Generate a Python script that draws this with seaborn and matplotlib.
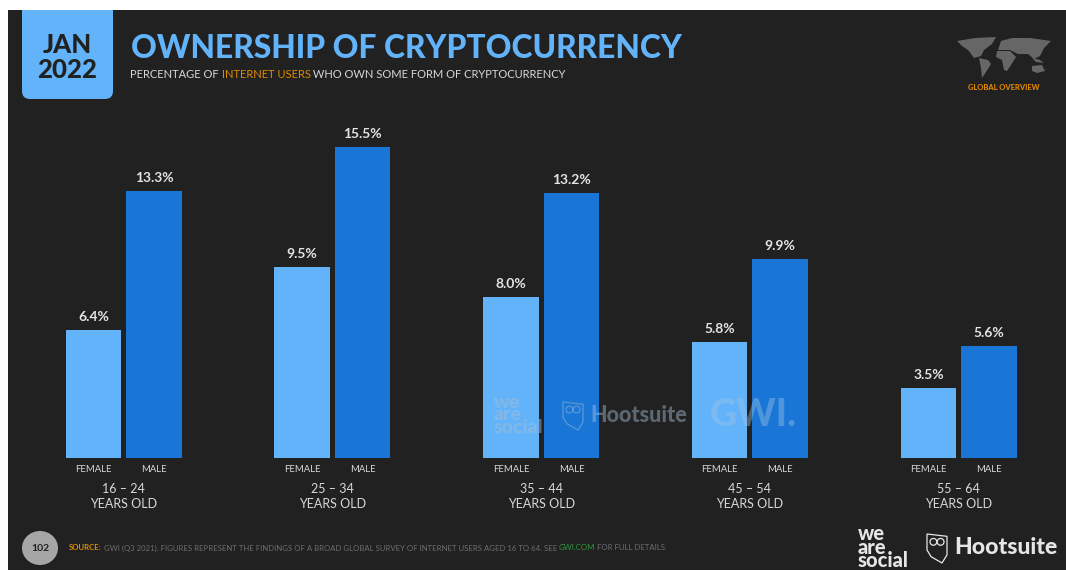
import matplotlib
matplotlib.use("Agg")
import matplotlib.pyplot as plt
from matplotlib.patches import FancyBboxPatch, Rectangle, Circle, Polygon, Ellipse
import pandas as pd
import seaborn as sns

age_groups = ["16 – 24", "25 – 34", "35 – 44", "45 – 54", "55 – 64"]
female_values = [6.4, 9.5, 8.0, 5.8, 3.5]
male_values = [13.3, 15.5, 13.2, 9.9, 5.6]
genders = ["FEMALE", "MALE"]
title_text = "OWNERSHIP OF CRYPTOCURRENCY"
subtitle_parts = ["PERCENTAGE OF ", "INTERNET USERS", " WHO OWN SOME FORM OF CRYPTOCURRENCY"]
source_parts = ["SOURCE:", " GWI (Q3 2021). FIGURES REPRESENT THE FINDINGS OF A BROAD GLOBAL SURVEY OF INTERNET USERS AGED 16 TO 64. SEE ",
                "GWI.COM", " FOR FULL DETAILS."]

BG, LIGHT, DARK, ORANGE = "#212121", "#62B3F9", "#1976D6", "#E08A00"
W, H = 1066, 572

sns.set_theme(style="dark")
plt.rcParams["font.family"] = ["Lato", "DejaVu Sans"]

df = pd.DataFrame({
    "age": age_groups * 2,
    "gender": [genders[0]] * 5 + [genders[1]] * 5,
    "value": female_values + male_values,
})

fig = plt.figure(figsize=(W / 100, H / 100), dpi=100, facecolor="white")

# page layer in pixel coordinates
page = fig.add_axes([0, 0, 1, 1], zorder=0)
page.set_xlim(0, W)
page.set_ylim(H, 0)
page.axis("off")
page.add_patch(Rectangle((8, 10), W - 8, 560, fc=BG, ec="none"))
badge = FancyBboxPatch((22, 2), 91, 97, boxstyle="round,pad=0,rounding_size=8", fc=LIGHT, ec="none")
page.add_patch(badge)
badge.set_clip_path(Rectangle((8, 10), W - 8, 560, transform=page.transData))
page.text(67.5, 45, "JAN", ha="center", va="center", fontsize=18.5, fontweight="black", color=BG)
page.text(67.5, 70, "2022", ha="center", va="center", fontsize=18.5, fontweight="black", color=BG)
page.text(131, 48, title_text, ha="left", va="center", fontsize=22.9, fontweight="black", color=LIGHT)


def chain(x, y, parts, colors, size, weights=None):
    rend = fig.canvas.get_renderer()
    for i, (p, c) in enumerate(zip(parts, colors)):
        t = page.text(x, y, p, ha="left", va="center", fontsize=size, color=c,
                      fontweight=(weights[i] if weights else "normal"))
        x += t.get_window_extent(rend).width


chain(130, 74.5, subtitle_parts, ["#D8D8D8", ORANGE, "#D8D8D8"], 8.04)
chain(69, 548, source_parts, [ORANGE, "#6E6E6E", "#2E9B3A", "#6E6E6E"], 5.55, ["bold", "normal", "normal", "normal"])

page.add_patch(Ellipse((40, 548), 36, 34, fc="#A6A6A6", ec="none"))
page.text(40, 548.5, "102", ha="center", va="center", fontsize=7.5, fontweight="bold", color=BG)

# map decoration
map_shapes = [
    [(957, 41), (975, 38), (996, 37), (992, 44), (984, 50), (981, 56), (974, 58), (968, 50), (962, 46)],
    [(979, 58), (988, 60), (991, 64), (986, 72), (982, 78), (981, 68)],
    [(1001, 41), (1012, 38), (1030, 38), (1051, 41), (1044, 48), (1040, 56), (1034, 59), (1028, 54), (1018, 54), (1010, 50), (998, 50)],
    [(997, 51), (1010, 51), (1016, 57), (1011, 65), (1007, 71), (1004, 70), (1002, 60), (996, 57)],
    [(1032, 66), (1042, 65), (1045, 71), (1037, 73), (1032, 71)],
    [(1032, 58), (1040, 60), (1044, 63), (1036, 62)],
]
for pts in map_shapes:
    page.add_patch(Polygon(pts, closed=True, fc="#666666", ec="none"))
page.text(1003.5, 88, "GLOBAL OVERVIEW", ha="center", va="center", fontsize=5.4, fontweight="black", color=ORANGE)

# bars
ax = fig.add_axes([19.3 / W, (H - 458) / H, (1063.1 - 19.3) / W, 430 / H], zorder=1)
ax.patch.set_alpha(0)
sns.barplot(data=df, x="age", y="value", hue="gender", hue_order=genders, order=age_groups,
            palette=[LIGHT, DARK], width=0.58, gap=0.083, legend=False, ax=ax, saturation=1,
            linewidth=0, edgecolor="none")
ax.set_xlim(-0.5, 4.5)
ax.set_ylim(0, 430 / 20.07)
ax.grid(False)
ax.set_xlabel("")
ax.set_ylabel("")
ax.set_yticks([])
ax.set_xticks(range(5))
ax.set_xticklabels([f"{a}\nYEARS OLD" for a in age_groups], fontsize=9, color="#D8D8D8", linespacing=1.3)
ax.tick_params(axis="x", length=0, pad=18)
for s in ax.spines.values():
    s.set_visible(False)
for c in ax.containers:
    ax.bar_label(c, fmt="%.1f%%", padding=5, fontsize=10, fontweight="bold", color="#E4E4E4")
offs = (-0.145, 0.145)
for i in range(5):
    for g, o in zip(genders, offs):
        ax.annotate(g, (i + o, 0), xytext=(0, -12), textcoords="offset pixels", ha="center", va="center",
                    fontsize=6.8, color="#D8D8D8", annotation_clip=False)

# overlay layer for logos and watermark
page2 = fig.add_axes([0, 0, 1, 1], zorder=2)
page2.set_xlim(0, W)
page2.set_ylim(H, 0)
page2.axis("off")
page2.patch.set_alpha(0)


def logo(x_we, y_we, x_h, y_h, fs_we, fs_h, color, alpha):
    page2.text(x_we, y_we, "we\nare\nsocial", ha="left", va="center", fontsize=fs_we, fontweight="black",
               color=color, alpha=alpha, linespacing=0.66)
    page2.text(x_h, y_h, "Hootsuite", ha="left", va="center", fontsize=fs_h, fontweight="black",
               color=color, alpha=alpha)


def owl(x, y, w, h, color, alpha):
    page2.add_patch(Polygon([(x, y), (x + w, y + h * 0.08), (x + w, y + h * 0.72), (x + w * 0.75, y + h),
                             (x + w * 0.2, y + h * 0.78), (x, y + h * 0.55)],
                            closed=True, fc="none", ec=color, lw=0.9, alpha=alpha))
    for dx in (0.32, 0.68):
        page2.add_patch(Circle((x + w * dx, y + h * 0.27), w * 0.17, fc="none", ec=color, lw=0.9, alpha=alpha))


logo(858, 547, 954, 548, 14.5, 16.6, "#E6E6E6", 1)
owl(927, 534, 20, 29, "#E6E6E6", 1)
logo(494, 415, 590, 415, 14, 15.5, "#A9C0D6", 0.45)
owl(563, 402, 20, 28, "#A9C0D6", 0.45)
page2.text(710, 415, "GWI.", ha="left", va="center", fontsize=27, fontweight="black", color="#9FC4E6", alpha=0.4)

fig.savefig("out.png", dpi=100, facecolor="white")
